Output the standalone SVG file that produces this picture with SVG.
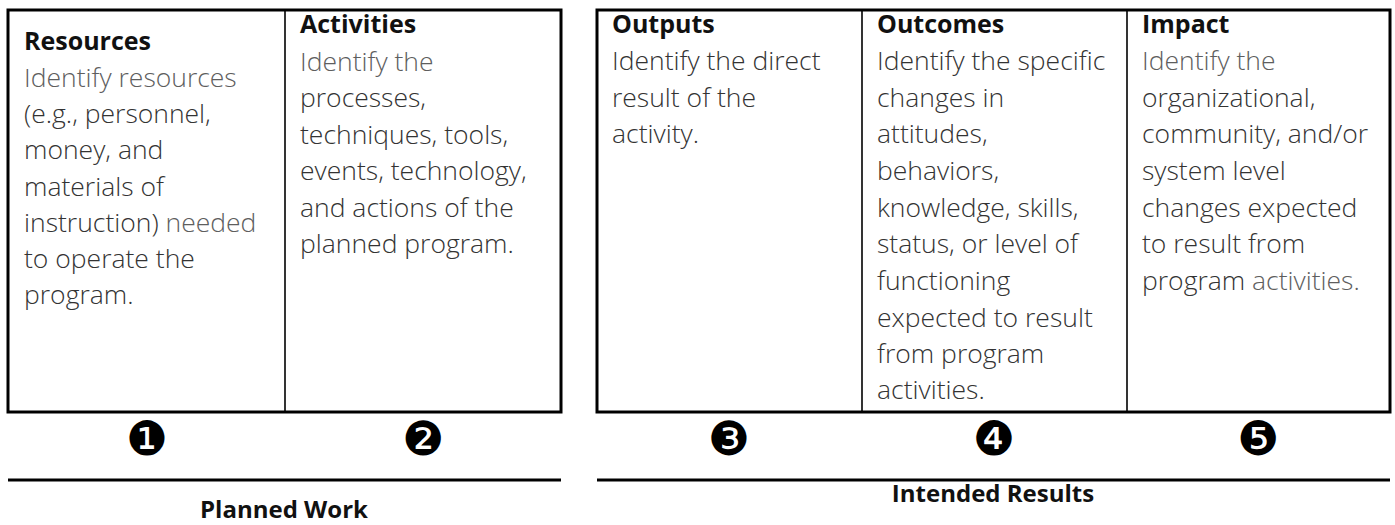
<svg xmlns="http://www.w3.org/2000/svg" width="1395" height="525" viewBox="0 0 1395 525">
<style>
.t{font-family:"Open Sans","Liberation Sans",sans-serif;font-weight:700;font-size:25px;fill:#111}
.b{font-family:"Open Sans","Liberation Sans",sans-serif;font-weight:300;font-size:26.5px;fill:#333}
.g{fill:#5e5e5e}
.frame{fill:none;stroke:#000;stroke-width:3}
.div{stroke:#000;stroke-width:1.6}
.rule{stroke:#000;stroke-width:3}
.num{font-family:"DejaVu Sans",sans-serif;font-size:47px;fill:#000;text-anchor:middle}
.lab{font-family:"Open Sans","Liberation Sans",sans-serif;font-weight:700;font-size:24px;fill:#111;text-anchor:middle}
</style>
<rect width="1395" height="525" fill="#fff"/>
<g id="tables">
<rect class="frame" x="8" y="10" width="553" height="402"/>
<line class="div" x1="285" y1="10" x2="285" y2="412"/>
<rect class="frame" x="597" y="10" width="793" height="402"/>
<line class="div" x1="862" y1="10" x2="862" y2="412"/>
<line class="div" x1="1127" y1="10" x2="1127" y2="412"/>
</g>
<g id="resources">
<text class="t" x="24" y="50">Resources</text>
<text class="b" x="24" y="87"><tspan class="g">Identify resources</tspan></text>
<text class="b" x="24" y="123">(e.g., personnel,</text>
<text class="b" x="24" y="159">money, and</text>
<text class="b" x="24" y="196">materials of</text>
<text class="b" x="24" y="232">instruction)<tspan class="g"> needed</tspan></text>
<text class="b" x="24" y="268">to operate the</text>
<text class="b" x="24" y="304">program.</text>
<text class="num" x="147" y="455">❶</text>
</g>
<g id="activities">
<text class="t" x="300" y="33">Activities</text>
<text class="b g" x="300" y="71">Identify the</text>
<text class="b" x="300" y="107">processes,</text>
<text class="b" x="300" y="144">techniques, tools,</text>
<text class="b" x="300" y="180">events, technology,</text>
<text class="b" x="300" y="217">and actions of the</text>
<text class="b" x="300" y="253">planned program.</text>
<text class="num" x="423" y="455">❷</text>
</g>
<g id="outputs">
<text class="t" x="612" y="33">Outputs</text>
<text class="b" x="612" y="70">Identify the direct</text>
<text class="b" x="612" y="107">result of the</text>
<text class="b" x="612" y="143">activity.</text>
<text class="num" x="729" y="455">❸</text>
</g>
<g id="outcomes">
<text class="t" x="877" y="33">Outcomes</text>
<text class="b" x="877" y="70">Identify the specific</text>
<text class="b" x="877" y="107">changes in</text>
<text class="b" x="877" y="143">attitudes,</text>
<text class="b" x="877" y="180">behaviors,</text>
<text class="b" x="877" y="217">knowledge, skills,</text>
<text class="b" x="877" y="253">status, or level of</text>
<text class="b" x="877" y="290">functioning</text>
<text class="b" x="877" y="327">expected to result</text>
<text class="b" x="877" y="363">from program</text>
<text class="b" x="877" y="399">activities.</text>
<text class="num" x="994" y="455">❹</text>
</g>
<g id="impact">
<text class="t" x="1142" y="33">Impact</text>
<text class="b g" x="1142" y="70">Identify the</text>
<text class="b" x="1142" y="107">organizational,</text>
<text class="b" x="1142" y="143">community, and/or</text>
<text class="b" x="1142" y="180">system level</text>
<text class="b" x="1142" y="217">changes expected</text>
<text class="b" x="1142" y="253">to result from</text>
<text class="b" x="1142" y="290">program<tspan class="g"> activities.</tspan></text>
<text class="num" x="1258" y="455">❺</text>
</g>
<g id="connectors">
<line class="rule" x1="8" y1="480" x2="561" y2="480"/>
<line class="rule" x1="597" y1="480" x2="1390" y2="480"/>
</g>
<g id="planned-work">
<text class="lab" x="284" y="518">Planned Work</text>
</g>
<g id="intended-results">
<text class="lab" x="993" y="502">Intended Results</text>
</g>
</svg>
